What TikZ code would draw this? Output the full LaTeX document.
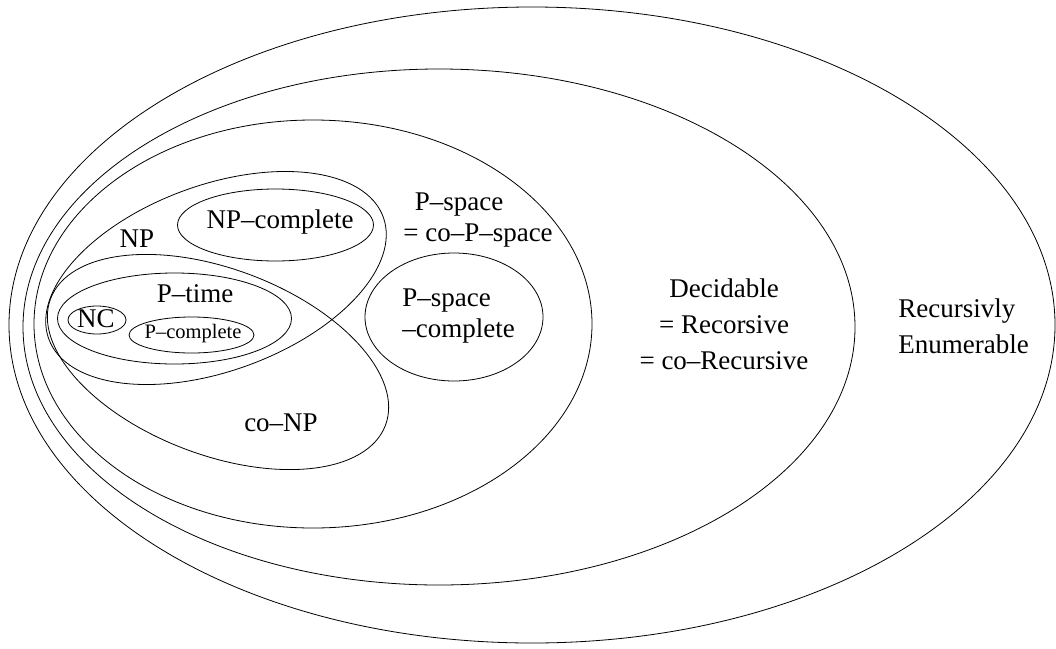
\documentclass[tikz,border=0pt]{standalone}
\usepackage{fontspec}
\setmainfont{Liberation Serif}
\begin{document}
\begin{tikzpicture}[x=1pt,y=-1pt,line width=0.8pt]
  \tikzstyle{cls}=[inner sep=0pt,font=\fontsize{27}{36}\selectfont]
  \tikzstyle{clssmall}=[inner sep=0pt,font=\fontsize{20.5}{24}\selectfont]
  \useasboundingbox (0,0) rectangle (1056,648);
  % classes, outermost first
  \draw (532,325) ellipse [x radius=523,y radius=318];
  \draw (439,327) ellipse [x radius=416,y radius=258];
  \draw (313,324) ellipse [x radius=279,y radius=204];
  \draw[rotate around={20:(216,278)}] (216,278) ellipse [x radius=178,y radius=93];
  \draw[rotate around={-20.7:(218,362)}] (218,362) ellipse [x radius=179,y radius=93];
  \draw (275.5,225) ellipse [x radius=98,y radius=36];
  \draw (174.5,318.5) ellipse [x radius=117,y radius=45.5];
  \draw (97,320) ellipse [x radius=29,y radius=14];
  \draw (191.5,335) ellipse [x radius=62.5,y radius=18];
  \draw (454,317) ellipse [x radius=89,y radius=64];
  % names
  \node[cls,anchor=base] (np) at (137,247) {NP};
  \node[cls,anchor=base] (npc) at (280,228) {NP--complete};
  \node[cls,anchor=base] (ptime) at (195,302) {P--time};
  \node[cls,anchor=base] (nc) at (96,327) {NC};
  \node[clssmall,anchor=base] (pc) at (193,338) {P--complete};
  \node[cls,anchor=base] (conp) at (281,431) {co--NP};
  \node[cls,anchor=base] (ps1) at (459,210) {P--space};
  \node[cls,anchor=base] (ps2) at (478,241) {= co--P--space};
  \node[cls,font=\fontsize{27}{31}\selectfont,align=left,anchor=west] (psc) at (402,316) {P--space\\--complete};
  \node[cls,align=center] (dec) at (724,324.5) {Decidable\\= Recorsive\\= co--Recursive};
  \node[cls,align=left,anchor=west] (re) at (898,326.5) {Recursivly\\Enumerable};
\end{tikzpicture}
\end{document}
